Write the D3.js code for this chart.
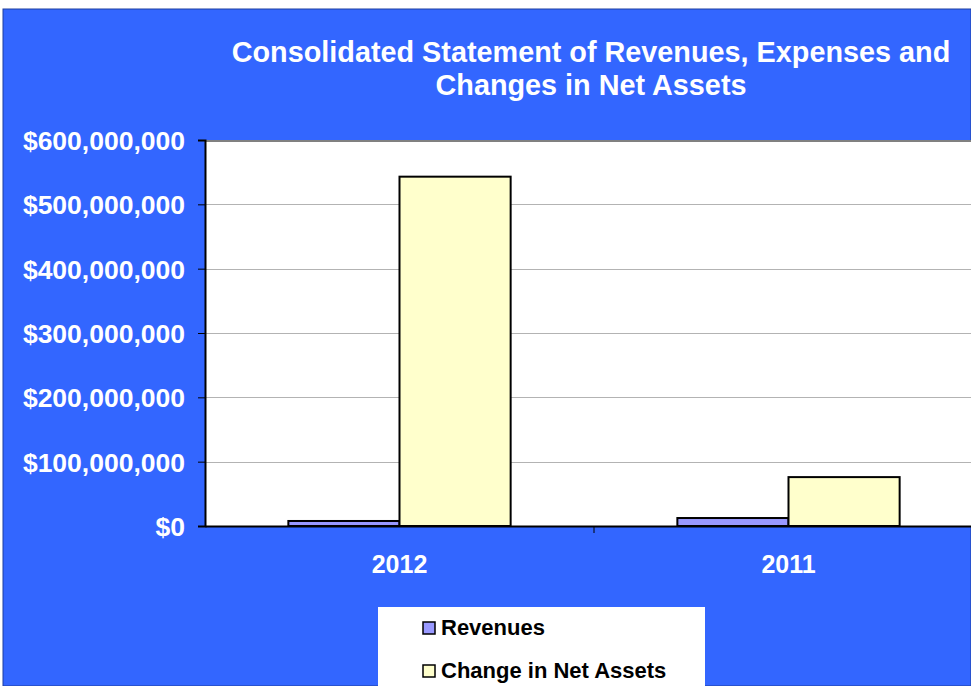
<!DOCTYPE html>
<html><head><meta charset="utf-8">
<script src="https://cdn.jsdelivr.net/npm/d3@7"></script>
<style>html,body{margin:0;padding:0;background:#fff;}svg{display:block;}</style>
</head><body>
<script>
const categories = ["2012", "2011"];
const seriesNames = ["Revenues", "Change in Net Assets"];
const revenues = [7800000, 12400000];
const changeInNetAssets = [543000000, 76000000];
const yTicks = [0, 100000000, 200000000, 300000000, 400000000, 500000000, 600000000];
const colors = ["#9999FF", "#FFFFCC"];

const W = 971, H = 686;
const FONT = "Arial, 'Liberation Sans', sans-serif";
const svg = d3.select("body").append("svg").attr("width", W).attr("height", H)
  .style("font-family", FONT);

svg.append("rect").attr("x", 3).attr("y", 9).attr("width", W - 3).attr("height", H - 9)
  .attr("fill", "#3366FF").attr("stroke", "#1f3f9f").attr("stroke-width", 1);

const title = svg.append("text").attr("fill", "#fff").attr("font-weight", "bold")
  .attr("font-size", 28.8).attr("text-anchor", "middle");
title.append("tspan").attr("x", 591).attr("y", 62).text("Consolidated Statement of Revenues, Expenses and");
title.append("tspan").attr("x", 591).attr("y", 95).text("Changes in Net Assets");

const pLeft = 205, pRight = 983, pTop = 140, pBottom = 526;
const y = d3.scaleLinear().domain([0, 600000000]).range([pBottom, pTop]);
const x0 = d3.scaleBand().domain(categories).range([pLeft, pRight]).paddingInner(0).paddingOuter(0);
const x1 = d3.scaleBand().domain(seriesNames).range([0, x0.bandwidth()]).paddingInner(0).paddingOuter(0.75);

// plot area
svg.append("rect").attr("x", pLeft).attr("y", pTop).attr("width", pRight - pLeft).attr("height", pBottom - pTop).attr("fill", "#fff");
svg.append("line").attr("x1", pLeft).attr("x2", pRight).attr("y1", pTop + 1).attr("y2", pTop + 1)
  .attr("stroke", "#808080").attr("stroke-width", 2);

// gridlines
svg.append("g").selectAll("line").data(yTicks.filter(d => d > 0 && d < 600000000)).join("line")
  .attr("x1", pLeft).attr("x2", pRight).attr("y1", d => Math.round(y(d)) + 0.5).attr("y2", d => Math.round(y(d)) + 0.5)
  .attr("stroke", "#b3b3b3").attr("stroke-width", 1);

// bars
const data = categories.map((c, i) => ({cat: c, vals: [revenues[i], changeInNetAssets[i]]}));
const g = svg.append("g").selectAll("g").data(data).join("g")
  .attr("transform", d => `translate(${x0(d.cat)},0)`);
g.selectAll("rect").data(d => d.vals.map((v, j) => ({v, name: seriesNames[j], j}))).join("rect")
  .attr("x", d => x1(d.name)).attr("width", x1.bandwidth())
  .attr("y", d => y(d.v)).attr("height", d => pBottom - y(d.v))
  .attr("fill", d => colors[d.j]).attr("stroke", "#000").attr("stroke-width", 2);

// y axis
const yAxis = d3.axisLeft(y).tickValues(yTicks).tickSize(7).tickPadding(13)
  .tickFormat(d => "$" + d3.format(",")(d));
const ya = svg.append("g").attr("transform", `translate(${pLeft},0)`).call(yAxis);
ya.select(".domain").attr("stroke", "#000").attr("stroke-width", 2);
ya.selectAll(".tick line").attr("stroke", "#000");
ya.selectAll("text").attr("fill", "#fff").attr("font-size", 26.5).attr("font-weight", "bold")
  .attr("font-family", FONT).attr("dy", "0.36em");

// x axis
const xa = svg.append("g").attr("transform", `translate(0,${pBottom})`)
  .call(d3.axisBottom(x0).tickSize(0).tickPadding(28));
xa.select(".domain").attr("stroke", "#000").attr("stroke-width", 2);
xa.selectAll("text").attr("fill", "#fff").attr("font-size", 25).attr("font-weight", "bold")
  .attr("font-family", FONT).attr("dy", null).attr("y", 47);
svg.append("line").attr("x1", x0("2011")).attr("x2", x0("2011")).attr("y1", pBottom).attr("y2", pBottom + 7)
  .attr("stroke", "#000").attr("stroke-width", 1);

// legend
svg.append("rect").attr("x", 378).attr("y", 607).attr("width", 327).attr("height", 85).attr("fill", "#fff");
const lg = svg.append("g").selectAll("g").data(seriesNames).join("g")
  .attr("transform", (d, i) => `translate(423,${622 + i * 43})`);
lg.append("rect").attr("x", 0).attr("y", 0).attr("width", 12).attr("height", 12)
  .attr("fill", (d, i) => colors[i]).attr("stroke", "#000").attr("stroke-width", 1.5);
lg.append("text").attr("x", 18).attr("y", 13).attr("font-size", 22).attr("font-weight", "bold")
  .attr("fill", "#000").text(d => d);
</script>
</body></html>
